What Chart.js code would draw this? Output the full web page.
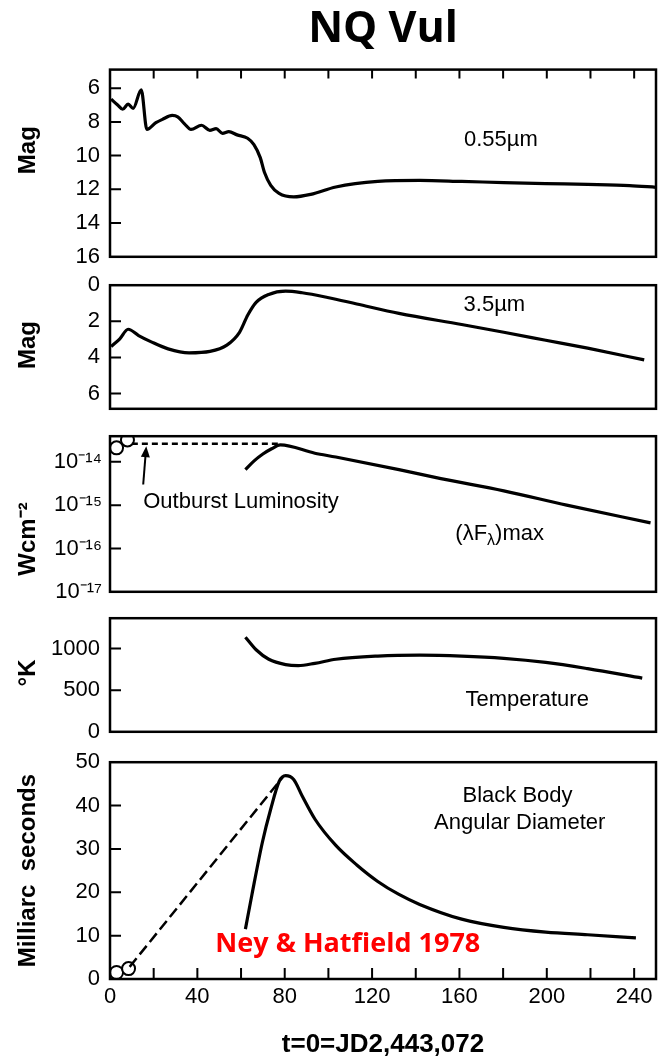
<!DOCTYPE html>
<html>
<head>
<meta charset="utf-8">
<script src="https://cdn.jsdelivr.net/npm/chart.js@4.4.1/dist/chart.umd.min.js"></script>
<style>
  html, body { margin: 0; padding: 0; background: #fff; }
  #wrap { position: relative; width: 659px; height: 1060px; overflow: hidden; background: #fff; }
  #wrap canvas { position: absolute; left: 0; }
</style>
</head>
<body>
<div id="wrap">
  <canvas id="pV" width="659" height="280" style="top:0px"></canvas>
  <canvas id="pL" width="659" height="170" style="top:262px"></canvas>
  <canvas id="pF" width="659" height="198" style="top:415px"></canvas>
  <canvas id="pT" width="659" height="160" style="top:595px"></canvas>
  <canvas id="pD" width="659" height="321" style="top:739px"></canvas>
</div>
<script>
// days since t=0 (JD 2,443,072)
const vDay = [0.5, 3.5, 5.8, 8.3, 10.6, 14.3, 16.9, 21, 24, 28.5, 31, 34, 37.1, 41.9, 45.7, 48.6, 51.5, 54.4, 58.2, 63, 65.9, 68.8, 70.7, 73.6, 77.4, 84.1, 91.9, 103.4, 122.6, 141.8, 161, 180.3, 199.5, 218.7, 237.9, 250];
const vMag = [6.65, 7.0, 7.25, 6.95, 7.2, 6.1, 8.45, 8.05, 7.85, 7.62, 7.7, 8.1, 8.45, 8.2, 8.5, 8.4, 8.68, 8.58, 8.77, 8.97, 9.35, 10.12, 10.99, 11.76, 12.24, 12.45, 12.3, 11.86, 11.53, 11.47, 11.53, 11.6, 11.66, 11.71, 11.78, 11.88];

const lDay = [0.5, 4.5, 8.3, 13.1, 18.9, 26.6, 36.2, 45.8, 53.5, 59.3, 63.1, 66.9, 72.7, 80.4, 88, 99.6, 113, 132.3, 161, 180.3, 199.5, 218.7, 244.6];
const lMag = [3.4, 2.97, 2.44, 2.79, 3.14, 3.53, 3.75, 3.67, 3.32, 2.61, 1.65, 0.95, 0.51, 0.33, 0.42, 0.68, 1.04, 1.56, 2.18, 2.61, 3.05, 3.49, 4.14];

const fluxDay = [62, 66, 70, 74, 78, 93.8, 103.4, 132.3, 151.5, 180.3, 209.1, 247.5];
const fluxMax = [6.6e-15, 1.05e-14, 1.51e-14, 2.0e-14, 2.45e-14, 1.58e-14, 1.29e-14, 6.6e-15, 4.1e-15, 2.14e-15, 1.0e-15, 3.9e-16];
const outburstDay = [10, 78];
const outburstFlux = [2.6e-14, 2.6e-14];
const earlyFluxDay = [3, 8];
const earlyFlux = [2.1e-14, 3.2e-14];

const tempDay = [62, 66.9, 72.7, 80.4, 86.2, 93.8, 103.4, 122.6, 141.8, 161, 180.3, 199.5, 218.7, 243.7];
const tempK = [1136, 985, 871, 807, 795, 822, 871, 909, 920, 909, 882, 833, 758, 644];

const diamDay = [62, 65, 69.8, 73.6, 77.5, 80.4, 84.1, 88, 93.8, 103.4, 113, 122.6, 132.3, 141.8, 161, 180.3, 199.5, 218.7, 240.8];
const diamMas = [11.5, 19.5, 31.6, 39.2, 45.6, 46.9, 46.0, 42.2, 36.9, 30.8, 26.3, 22.5, 19.5, 17.2, 13.8, 11.9, 10.8, 10.2, 9.5];
const diamExtDay = [9, 79];
const diamExtMas = [2.8, 46.5];
const earlyDiamDay = [3, 8.5];
const earlyDiamMas = [1.5, 2.4];

// tick labels
const dayLabels = [0, 40, 80, 120, 160, 200, 240];
const dayMarks = [20, 40, 60, 80, 100, 120, 140, 160, 180, 200, 220, 240];
const vTicks = [6, 8, 10, 12, 14, 16];
const lTicks = [0, 2, 4, 6];
const fluxTicks = [1e-14, 1e-15, 1e-16, 1e-17];
const tempTicks = [0, 500, 1000];
const diamTicks = [0, 10, 20, 30, 40, 50];

const SANS = '"Liberation Sans", Arial, sans-serif';
const WIDTH = 659, PLOT_LEFT = 110, PLOT_RIGHT = 656;
const SUP = { '-': '\u207B', '0': '\u2070', '1': '\u00B9', '2': '\u00B2', '3': '\u00B3', '4': '\u2074', '5': '\u2075', '6': '\u2076', '7': '\u2077', '8': '\u2078', '9': '\u2079' };
const pow10 = v => '10' + String(Math.round(Math.log10(v))).split('').map(c => SUP[c]).join('');

const pts = (xs, ys) => xs.map((x, i) => ({ x, y: ys[i] }));

// box, inward ticks, side title and in-panel notes
const panelDecor = {
  id: 'panelDecor',
  afterDatasetsDraw(chart, args, opts) {
    const { ctx, chartArea: a, scales: { x, y } } = chart;
    ctx.save();
    ctx.strokeStyle = '#000';
    ctx.fillStyle = '#000';
    ctx.lineWidth = 2.5;
    ctx.strokeRect(a.left, a.top, a.right - a.left, a.bottom - a.top);

    ctx.lineWidth = 2;
    ctx.beginPath();
    (opts.yMarks || []).forEach(v => {
      const py = y.getPixelForValue(v);
      ctx.moveTo(a.left, py);
      ctx.lineTo(a.left + 11, py);
    });
    (opts.xMarks || []).forEach(v => {
      const px = x.getPixelForValue(v);
      if (opts.xSide === 'top') { ctx.moveTo(px, a.top); ctx.lineTo(px, a.top + 9); }
      else { ctx.moveTo(px, a.bottom); ctx.lineTo(px, a.bottom - 11); }
    });
    ctx.stroke();

    if (opts.side) {
      ctx.save();
      ctx.font = 'bold 24px ' + SANS;
      ctx.textAlign = 'center';
      ctx.textBaseline = 'middle';
      ctx.translate(28, (a.top + a.bottom) / 2 + (opts.side.dy || 0));
      ctx.rotate(-Math.PI / 2);
      ctx.fillText(opts.side.text, 0, 0);
      ctx.restore();
    }

    (opts.notes || []).forEach(n => {
      const px = x.getPixelForValue(n.x);
      const py = y.getPixelForValue(n.y);
      ctx.fillStyle = n.color || '#000';
      ctx.textBaseline = 'middle';
      ctx.textAlign = 'left';
      const parts = n.parts || [{ t: n.text }];
      const fonts = parts.map(p => p.sub ? '16px ' + SANS : (n.font || '22px ' + SANS));
      let w = 0;
      parts.forEach((p, i) => { ctx.font = fonts[i]; w += ctx.measureText(p.t).width; });
      let cx = px - w / 2;
      parts.forEach((p, i) => {
        ctx.font = fonts[i];
        ctx.fillText(p.t, cx, py + (p.sub ? 7 : 0));
        cx += ctx.measureText(p.t).width;
      });
    });

    (opts.arrows || []).forEach(ar => {
      const x1 = x.getPixelForValue(ar[0][0]), y1 = y.getPixelForValue(ar[0][1]);
      const x2 = x.getPixelForValue(ar[1][0]), y2 = y.getPixelForValue(ar[1][1]);
      const ang = Math.atan2(y2 - y1, x2 - x1);
      ctx.lineWidth = 2;
      ctx.beginPath();
      ctx.moveTo(x1, y1);
      ctx.lineTo(x2 - 6 * Math.cos(ang), y2 - 6 * Math.sin(ang));
      ctx.stroke();
      ctx.beginPath();
      ctx.moveTo(x2, y2);
      ctx.lineTo(x2 - 11 * Math.cos(ang) + 4.5 * Math.sin(ang), y2 - 11 * Math.sin(ang) - 4.5 * Math.cos(ang));
      ctx.lineTo(x2 - 11 * Math.cos(ang) - 4.5 * Math.sin(ang), y2 - 11 * Math.sin(ang) + 4.5 * Math.cos(ang));
      ctx.closePath();
      ctx.fill();
    });
    ctx.restore();
  }
};
Chart.register(panelDecor);
Chart.defaults.font.family = SANS;
Chart.defaults.color = '#000';

const curve = (data, extra) => Object.assign({
  data, borderColor: '#000', borderWidth: 3.2, pointRadius: 0, fill: false,
  cubicInterpolationMode: 'monotone'
}, extra);
const dashed = (data, dash) => ({
  data, borderColor: '#000', borderWidth: 2.5, pointRadius: 0, fill: false, borderDash: dash
});
const circles = data => ({
  data, showLine: false, pointRadius: 6.5, pointBorderWidth: 2,
  pointBackgroundColor: '#fff', pointBorderColor: '#000'
});

function yAxis(tickVals, extra) {
  return Object.assign({
    afterBuildTicks: s => { s.ticks = tickVals.map(v => ({ value: v })); },
    afterFit: s => { s.width = PLOT_LEFT; },
    ticks: { color: '#000', font: { size: 22 }, padding: 10, autoSkip: false, callback: v => String(v) },
    grid: { display: false, drawTicks: false },
    border: { display: false }
  }, extra);
}
const hiddenX = { type: 'linear', min: 0, max: 250, display: false };

function panel(id, datasets, y, decor, pad, more) {
  const opts = {
    responsive: false,
    animation: false,
    layout: { autoPadding: false, padding: Object.assign({ left: 0, right: WIDTH - PLOT_RIGHT, top: 20, bottom: 20 }, pad) },
    scales: { x: hiddenX, y },
    plugins: { legend: { display: false }, tooltip: { enabled: false }, panelDecor: decor }
  };
  if (more) more(opts);
  const ch = new Chart(document.getElementById(id), { type: 'line', data: { datasets }, options: opts });
  // keep every panel's right edge on the same vertical line
  const dx = PLOT_RIGHT - ch.chartArea.right;
  if (Math.abs(dx) > 0.5) {
    ch.options.layout.padding.right -= dx;
    ch.update();
  }
  return ch;
}

// 0.55 micron light curve
panel('pV', [curve(pts(vDay, vMag))],
  yAxis(vTicks, { type: 'linear', min: 4.9, max: 16, reverse: true }),
  { yMarks: [6, 8, 10, 12, 14], xMarks: dayMarks, xSide: 'top', side: { text: 'Mag', dy: -13 },
    notes: [{ text: '0.55\u00B5m', x: 179, y: 9.06 }] },
  { top: 4 },
  o => {
    o.plugins.title = {
      display: true, text: 'NQ Vul', fullSize: false, color: '#000',
      font: { family: '"Open Sans", "Noto Sans", sans-serif', size: 43, weight: 'bold' },
      padding: { top: 0, bottom: 14 }
    };
  });

// 3.5 micron light curve
panel('pL', [curve(pts(lDay, lMag))],
  yAxis(lTicks, { type: 'linear', min: 0, max: 6.85, reverse: true }),
  { yMarks: [2, 4, 6], side: { text: 'Mag', dy: -2 },
    notes: [{ text: '3.5\u00B5m', x: 176, y: 1.1 }] });

// peak flux
panel('pF', [
    curve(pts(fluxDay, fluxMax)),
    dashed(pts(outburstDay, outburstFlux), [6, 4]),
    circles(pts(earlyFluxDay, earlyFlux))
  ],
  yAxis(fluxTicks, { type: 'logarithmic', min: 1e-17, max: 3.9e-14,
    ticks: { color: '#000', font: { size: 22 }, padding: 8, autoSkip: false, callback: v => pow10(v) } }),
  { yMarks: [1e-14, 1e-15, 1e-16], side: { text: 'Wcm\u207B\u00B2', dy: 25 },
    notes: [
      { text: 'Outburst Luminosity', x: 60, y: 1.17e-15 },
      { parts: [{ t: '(\u03BBF' }, { t: '\u03BB', sub: true }, { t: ')max' }], x: 178.4, y: 2.2e-16 }
    ],
    arrows: [[[15.2, 3.0e-15], [16.6, 2.3e-14]]] });

// temperature
panel('pT', [curve(pts(tempDay, tempK))],
  yAxis(tempTicks, { type: 'linear', min: 0, max: 1364 }),
  { yMarks: [500, 1000], side: { text: '\u00B0K', dy: -2 },
    notes: [{ text: 'Temperature', x: 191, y: 386 }] });

// black body angular diameter
panel('pD', [
    curve(pts(diamDay, diamMas)),
    dashed(pts(diamExtDay, diamExtMas), [11, 5]),
    circles(pts(earlyDiamDay, earlyDiamMas))
  ],
  yAxis(diamTicks, { type: 'linear', min: 0, max: 50 }),
  { yMarks: [10, 20, 30, 40], xMarks: dayMarks, xSide: 'bottom', side: { text: 'Milliarc  seconds', dy: 0 },
    notes: [
      { text: 'Black Body', x: 186.6, y: 42.3 },
      { text: 'Angular Diameter', x: 187.6, y: 36.1 },
      { text: 'Ney & Hatfield 1978', x: 108.9, y: 8.0, color: '#ff0000',
        font: 'bold 27px "Open Sans", "Noto Sans", sans-serif' }
    ] },
  { bottom: 0 },
  o => {
    o.scales.x = {
      type: 'linear', min: 0, max: 250,
      afterBuildTicks: s => { s.ticks = dayLabels.map(v => ({ value: v })); },
      afterFit: s => { s.height = 81; },
      ticks: { color: '#000', font: { size: 22 }, padding: 5, maxRotation: 0, autoSkip: false },
      grid: { display: false, drawTicks: false },
      border: { display: false },
      title: { display: true, text: 't=0=JD2,443,072', color: '#000',
        font: { size: 26, weight: 'bold' }, padding: 0 }
    };
  });
</script>
</body>
</html>
